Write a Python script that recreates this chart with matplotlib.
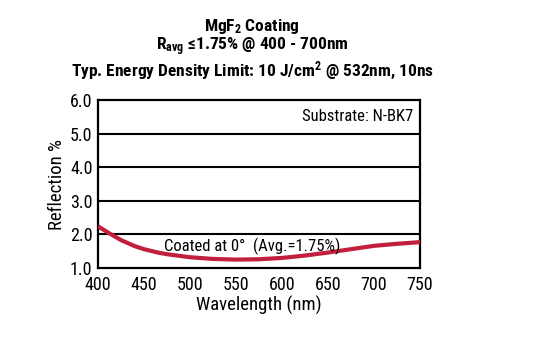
import matplotlib
matplotlib.use("Agg")
import matplotlib.pyplot as plt
from matplotlib import font_manager

names = {f.name for f in font_manager.fontManager.ttflist}
fam = [n for n in ["Roboto Condensed", "Liberation Sans Narrow", "DejaVu Sans Condensed"] if n in names] + ["DejaVu Sans"]
plt.rcParams['font.family'] = fam
plt.rcParams['mathtext.fontset'] = 'custom'
plt.rcParams['mathtext.rm'] = fam[0]
plt.rcParams['mathtext.bf'] = fam[0] + ":bold"
plt.rcParams['mathtext.default'] = 'regular'

wavelength = [400, 410, 425, 440, 450, 465, 475, 500, 525, 550, 575, 600, 625, 650, 675, 700, 725, 750]
reflection = [2.24, 2.07, 1.83, 1.65, 1.56, 1.46, 1.41, 1.32, 1.27, 1.25, 1.26, 1.30, 1.37, 1.46, 1.56, 1.66, 1.72, 1.77]
xticks = [400, 450, 500, 550, 600, 650, 700, 750]
yticks = [1.0, 2.0, 3.0, 4.0, 5.0, 6.0]

fig = plt.figure(figsize=(5.35, 3.55), dpi=100)
ax = fig.add_axes([98/535, 1-268/355, (420-98)/535, (268-100)/355])
ax.plot(wavelength, reflection, color="#C21F3C", lw=3, solid_capstyle="butt", zorder=3)
ax.set_xlim(400, 750)
ax.set_ylim(1.0, 6.0)
ax.set_xticks(xticks)
ax.set_yticks(yticks)
ax.set_yticklabels([f"{v:.1f}" for v in yticks])
ax.tick_params(length=0, labelsize=13)
ax.tick_params(axis="x", pad=6)
ax.tick_params(axis="y", pad=4)
for y in yticks[1:-1]:
    ax.axhline(y, color="black", lw=1.5, zorder=2)
for s in ax.spines.values():
    s.set_linewidth(1.6)
ax.set_xlabel("Wavelength (nm)", fontsize=13.5, labelpad=1)
ax.set_ylabel("Reflection %", fontsize=13.5, labelpad=3)
ax.text(0.98, 0.9, "Substrate: N-BK7", transform=ax.transAxes, ha="right", va="center", fontsize=12)
ax.text(0.48, 0.13, "Coated at 0°  (Avg.=1.75%)", transform=ax.transAxes, ha="center", va="center", fontsize=12, zorder=4)

cx = 252/535
fig.text(cx, 1-26/355, "MgF$_2$ Coating", ha="center", va="center", fontsize=12.5, fontweight="bold")
fig.text(cx, 1-47/355, "R$_{\\mathbf{avg}}$ ≤1.75% @ 400 - 700nm", ha="center", va="center", fontsize=12.5, fontweight="bold")
fig.text(cx, 1-70/355, "Typ. Energy Density Limit: 10 J/cm$^{\\mathbf{2}}$ @ 532nm, 10ns", ha="center", va="center", fontsize=12.5, fontweight="bold")
fig.savefig("out.png", dpi=100)
